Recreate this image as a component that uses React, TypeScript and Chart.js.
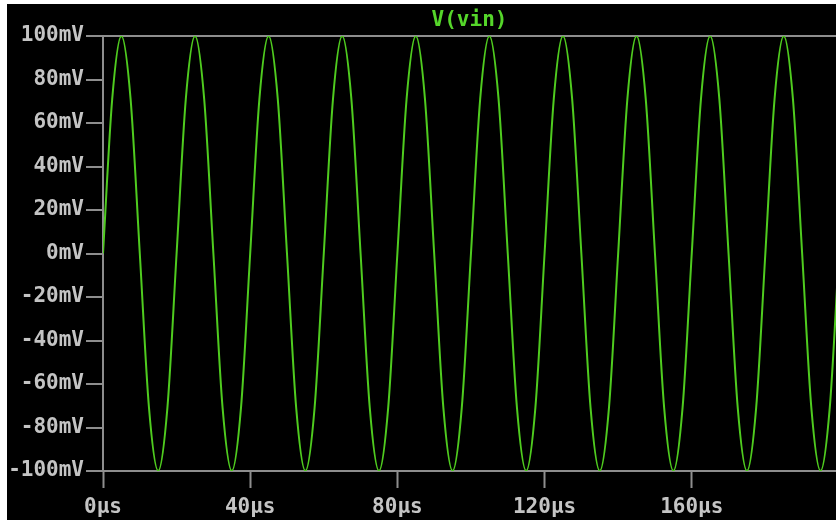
import React, { useEffect, useRef } from "react";
import { Chart, registerables } from "chart.js";

Chart.register(...registerables);

const TITLE = "V(vin)";

// time in µs (every 1/8 period of the 20 µs sine)
const timeUs = [
  0, 2.5, 5, 7.5, 10, 12.5, 15, 17.5,
  20, 22.5, 25, 27.5, 30, 32.5, 35, 37.5,
  40, 42.5, 45, 47.5, 50, 52.5, 55, 57.5,
  60, 62.5, 65, 67.5, 70, 72.5, 75, 77.5,
  80, 82.5, 85, 87.5, 90, 92.5, 95, 97.5,
  100, 102.5, 105, 107.5, 110, 112.5, 115, 117.5,
  120, 122.5, 125, 127.5, 130, 132.5, 135, 137.5,
  140, 142.5, 145, 147.5, 150, 152.5, 155, 157.5,
  160, 162.5, 165, 167.5, 170, 172.5, 175, 177.5,
  180, 182.5, 185, 187.5, 190, 192.5, 195, 197.5,
  200,
];

// V(vin) in mV
const voltageMv = [
  0, 71, 100, 71, 0, -71, -100, -71,
  0, 71, 100, 71, 0, -71, -100, -71,
  0, 71, 100, 71, 0, -71, -100, -71,
  0, 71, 100, 71, 0, -71, -100, -71,
  0, 71, 100, 71, 0, -71, -100, -71,
  0, 71, 100, 71, 0, -71, -100, -71,
  0, 71, 100, 71, 0, -71, -100, -71,
  0, 71, 100, 71, 0, -71, -100, -71,
  0, 71, 100, 71, 0, -71, -100, -71,
  0, 71, 100, 71, 0, -71, -100, -71,
  0,
];

const yTickValues = [-100, -80, -60, -40, -20, 0, 20, 40, 60, 80, 100];
const xTickValues = [0, 40, 80, 120, 160];

const X_MIN = 0;
const X_MAX = 199.2;

const GRAY = "#8e8e8e";
const LABEL = "#c4c4c4";
const GREEN = "#4fcb1f";
const TITLE_GREEN = "#55d62a";
const FONT = "'DejaVu Sans Mono', monospace";

export default function App() {
  const ref = useRef<HTMLCanvasElement | null>(null);

  useEffect(() => {
    const canvas = ref.current;
    if (!canvas) return;

    const bgPlugin = {
      id: "bg",
      beforeDraw(chart: any) {
        const c = chart.ctx;
        c.save();
        c.fillStyle = "#000";
        c.fillRect(7, 4, chart.width - 7, chart.height - 4);
        c.restore();
      },
    };

    const titlePlugin = {
      id: "traceTitle",
      afterDraw(chart: any) {
        const c = chart.ctx;
        const a = chart.chartArea;
        c.save();
        c.font = `bold 21px ${FONT}`;
        c.fillStyle = TITLE_GREEN;
        c.textAlign = "center";
        c.textBaseline = "middle";
        c.fillText(TITLE, (a.left + a.right) / 2, 21);
        c.restore();
      },
    };

    const chart = new Chart(canvas, {
      type: "line",
      data: {
        datasets: [
          {
            label: TITLE,
            data: timeUs.map((t, i) => ({ x: t, y: voltageMv[i] })),
            borderColor: GREEN,
            borderWidth: 2,
            pointRadius: 0,
            cubicInterpolationMode: "monotone",
            fill: false,
          },
        ],
      },
      options: {
        animation: false,
        responsive: false,
        devicePixelRatio: 1,
        layout: { padding: { top: 36, left: 0, right: 0, bottom: 0 } },
        plugins: {
          legend: { display: false },
          title: { display: false },
          tooltip: { enabled: false },
        },
        scales: {
          x: {
            type: "linear",
            min: X_MIN,
            max: X_MAX,
            afterBuildTicks: (scale: any) => {
              scale.ticks = xTickValues.map((v) => ({ value: v }));
            },
            afterFit: (scale: any) => {
              scale.height = 49;
            },
            grid: {
              drawOnChartArea: false,
              drawTicks: true,
              tickLength: 17,
              tickColor: GRAY,
              tickWidth: 2,
            },
            border: { display: true, color: GRAY, width: 2 },
            ticks: {
              color: LABEL,
              font: { family: FONT, size: 21, weight: "bold" },
              padding: 7,
              maxRotation: 0,
              autoSkip: false,
              callback: (v: any) => `${v}µs`,
            },
          },
          y: {
            type: "linear",
            min: -100,
            max: 100,
            afterBuildTicks: (scale: any) => {
              scale.ticks = yTickValues.map((v) => ({ value: v }));
            },
            afterFit: (scale: any) => {
              scale.width = 103;
            },
            grid: {
              drawOnChartArea: true,
              drawTicks: true,
              tickLength: 17,
              lineWidth: 2,
              tickWidth: 2,
              tickColor: GRAY,
              color: (ctx: any) =>
                ctx.tick && (ctx.tick.value === 100 || ctx.tick.value === -100)
                  ? GRAY
                  : "rgba(0,0,0,0)",
            },
            border: { display: true, color: GRAY, width: 2 },
            ticks: {
              color: LABEL,
              font: { family: FONT, size: 21, weight: "bold" },
              padding: 2,
              autoSkip: false,
              callback: (v: any) => `${v}mV`,
            },
          },
        },
      },
      plugins: [bgPlugin, titlePlugin],
    });

    return () => chart.destroy();
  }, []);

  return (
    <canvas
      ref={ref}
      width={836}
      height={520}
      style={{ position: "fixed", left: 0, top: 0, width: 836, height: 520, display: "block" }}
    />
  );
}
